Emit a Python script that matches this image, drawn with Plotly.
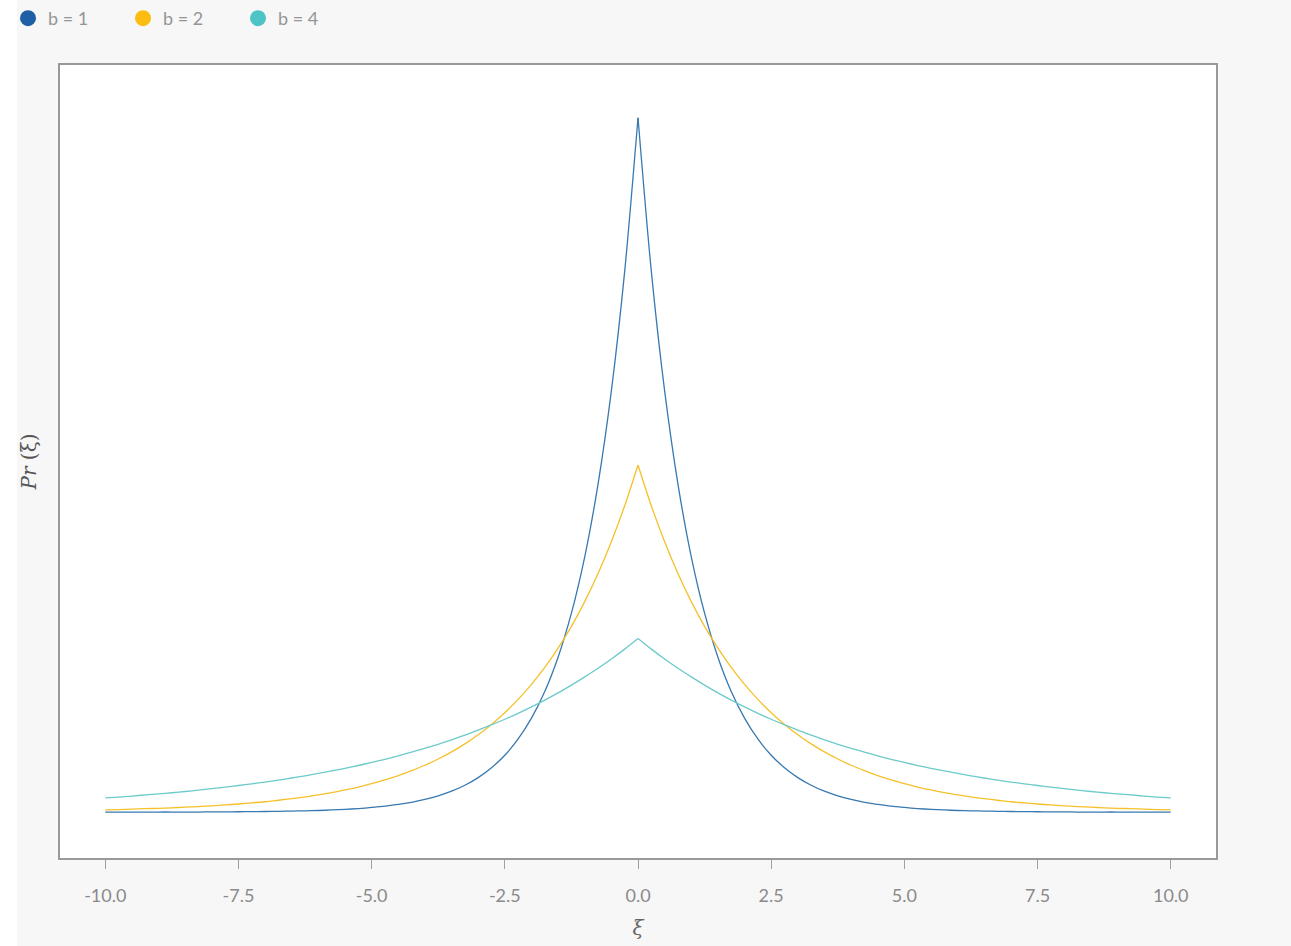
import plotly.graph_objects as go

xi = [-10.0, -9.75, -9.5, -9.25, -9.0, -8.75, -8.5, -8.25, -8.0, -7.75, -7.5, -7.25, -7.0, -6.75, -6.5, -6.25,
      -6.0, -5.75, -5.5, -5.25, -5.0, -4.75, -4.5, -4.25, -4.0, -3.75, -3.5, -3.25, -3.0, -2.75, -2.5, -2.25,
      -2.0, -1.75, -1.5, -1.25, -1.0, -0.75, -0.5, -0.25, 0.0, 0.25, 0.5, 0.75, 1.0, 1.25, 1.5, 1.75,
      2.0, 2.25, 2.5, 2.75, 3.0, 3.25, 3.5, 3.75, 4.0, 4.25, 4.5, 4.75, 5.0, 5.25, 5.5, 5.75,
      6.0, 6.25, 6.5, 6.75, 7.0, 7.25, 7.5, 7.75, 8.0, 8.25, 8.5, 8.75, 9.0, 9.25, 9.5, 9.75, 10.0]

pr_b1 = [0.0000, 0.0000, 0.0000, 0.0000, 0.0001, 0.0001, 0.0001, 0.0001, 0.0002, 0.0002, 0.0003, 0.0004,
         0.0005, 0.0006, 0.0008, 0.0010, 0.0012, 0.0016, 0.0020, 0.0026, 0.0034, 0.0043, 0.0056, 0.0071,
         0.0092, 0.0118, 0.0151, 0.0194, 0.0249, 0.0320, 0.0410, 0.0527, 0.0677, 0.0869, 0.1116, 0.1433,
         0.1839, 0.2362, 0.3033, 0.3894,
         0.5000,
         0.3894, 0.3033, 0.2362, 0.1839, 0.1433, 0.1116, 0.0869, 0.0677, 0.0527, 0.0410, 0.0320, 0.0249,
         0.0194, 0.0151, 0.0118, 0.0092, 0.0071, 0.0056, 0.0043, 0.0034, 0.0026, 0.0020, 0.0016, 0.0012,
         0.0010, 0.0008, 0.0006, 0.0005, 0.0004, 0.0003, 0.0002, 0.0002, 0.0001, 0.0001, 0.0001, 0.0001,
         0.0000, 0.0000, 0.0000, 0.0000]

pr_b2 = [0.0017, 0.0019, 0.0022, 0.0025, 0.0028, 0.0031, 0.0036, 0.0040, 0.0046, 0.0052, 0.0059, 0.0067,
         0.0075, 0.0086, 0.0097, 0.0110, 0.0124, 0.0141, 0.0160, 0.0181, 0.0205, 0.0232, 0.0263, 0.0299,
         0.0338, 0.0383, 0.0434, 0.0492, 0.0558, 0.0632, 0.0716, 0.0812, 0.0920, 0.1042, 0.1181, 0.1338,
         0.1516, 0.1718, 0.1947, 0.2206,
         0.2500,
         0.2206, 0.1947, 0.1718, 0.1516, 0.1338, 0.1181, 0.1042, 0.0920, 0.0812, 0.0716, 0.0632, 0.0558,
         0.0492, 0.0434, 0.0383, 0.0338, 0.0299, 0.0263, 0.0232, 0.0205, 0.0181, 0.0160, 0.0141, 0.0124,
         0.0110, 0.0097, 0.0086, 0.0075, 0.0067, 0.0059, 0.0052, 0.0046, 0.0040, 0.0036, 0.0031, 0.0028,
         0.0025, 0.0022, 0.0019, 0.0017]

pr_b4 = [0.0103, 0.0109, 0.0116, 0.0124, 0.0132, 0.0140, 0.0149, 0.0159, 0.0169, 0.0180, 0.0192, 0.0204,
         0.0217, 0.0231, 0.0246, 0.0262, 0.0279, 0.0297, 0.0316, 0.0336, 0.0358, 0.0381, 0.0406, 0.0432,
         0.0460, 0.0489, 0.0521, 0.0555, 0.0590, 0.0629, 0.0669, 0.0712, 0.0758, 0.0807, 0.0859, 0.0915,
         0.0974, 0.1036, 0.1103, 0.1174,
         0.1250,
         0.1174, 0.1103, 0.1036, 0.0974, 0.0915, 0.0859, 0.0807, 0.0758, 0.0712, 0.0669, 0.0629, 0.0590,
         0.0555, 0.0521, 0.0489, 0.0460, 0.0432, 0.0406, 0.0381, 0.0358, 0.0336, 0.0316, 0.0297, 0.0279,
         0.0262, 0.0246, 0.0231, 0.0217, 0.0204, 0.0192, 0.0180, 0.0169, 0.0159, 0.0149, 0.0140, 0.0132,
         0.0124, 0.0116, 0.0109, 0.0103]

series_names = ["b = 1", "b = 2", "b = 4"]
series_values = [pr_b1, pr_b2, pr_b4]
line_colors = ["#3779b0", "#f5c02a", "#6ccacb"]
dot_colors = ["#1f5fa6", "#fbbd12", "#4fc4c6"]

tick_vals = [-10.0, -7.5, -5.0, -2.5, 0.0, 2.5, 5.0, 7.5, 10.0]
tick_text = ["-10.0", "-7.5", "-5.0", "-2.5", "0.0", "2.5", "5.0", "7.5", "10.0"]

peak_idx = xi.index(0.0)

fig = go.Figure()
for name, vals, lc, dc in zip(series_names, series_values, line_colors, dot_colors):
    # left and right branches drawn separately so the cusp at 0 stays sharp
    for sl in (slice(0, peak_idx + 1), slice(peak_idx, None)):
        fig.add_trace(go.Scatter(x=xi[sl], y=vals[sl], mode="lines", name=name, showlegend=False,
                                 line=dict(color=lc, width=1.3, shape="spline", smoothing=0.8),
                                 hoverinfo="x+y"))
    fig.add_trace(go.Scatter(x=[None], y=[None], mode="markers", name=name,
                             marker=dict(color=dc, size=18, symbol="circle")))

font_fam = "Lato, 'Open Sans', sans-serif"
fig.update_layout(
    width=1291, height=946,
    paper_bgcolor="#f7f7f7", plot_bgcolor="#ffffff",
    margin=dict(l=60, r=75, t=65, b=88, autoexpand=False),
    font=dict(family=font_fam, color="#8a8a8a", size=18),
    legend=dict(orientation="h", xref="container", yref="container",
                x=0.0062, y=1.0, xanchor="left", yanchor="top",
                font=dict(size=18, color="#959595", family=font_fam),
                bgcolor="rgba(0,0,0,0)", entrywidth=70, entrywidthmode="pixels",
                itemsizing="trace"),
    xaxis=dict(range=[-10.85, 10.85], tickvals=tick_vals, ticktext=tick_text,
               ticks="outside", ticklen=9, tickcolor="#a0a0a0", tickwidth=1,
               ticklabelstandoff=12,
               showgrid=False, zeroline=False, showline=True, linecolor="#999999",
               linewidth=1.5, mirror=True,
               tickfont=dict(size=18, color="#8a8a8a", family=font_fam),
               title=dict(text="<i>ξ</i>", font=dict(family="DejaVu Serif", size=20, color="#666666"),
                          standoff=16)),
    yaxis=dict(range=[-0.033, 0.538], showticklabels=False, ticks="", showgrid=False,
               zeroline=False, showline=True, linecolor="#999999", linewidth=1.5, mirror=True,
               title=dict(text="<i>Pr</i> (ξ)", font=dict(family="DejaVu Serif", size=20, color="#555555"),
                          standoff=16)),
    shapes=[dict(type="rect", xref="paper", yref="paper", x0=-0.06, x1=-0.0372, y0=-0.2, y1=1.2,
                 fillcolor="#ffffff", line=dict(width=0), layer="below")],
)

fig.write_html("out.html", config={"displayModeBar": False},
               post_script="document.body.style.margin='0';")
